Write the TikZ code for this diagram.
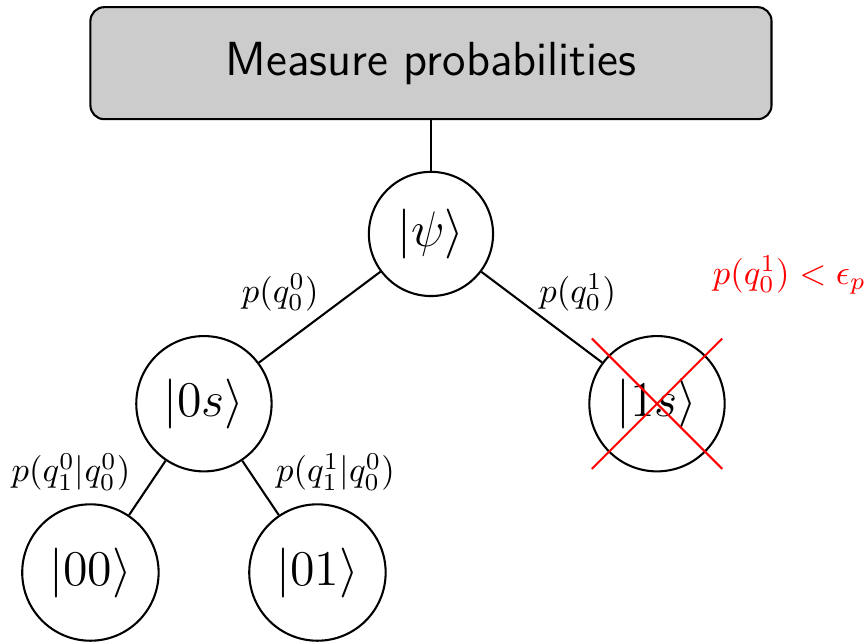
\documentclass[tikz,border=0pt]{standalone}
\usepackage{tikz}
\usetikzlibrary{positioning}

\begin{document}
\begin{tikzpicture}
    % Stijlen
    \tikzstyle{measure} = [rectangle, rounded corners, minimum width=6.9cm, minimum height=1.135cm, text centered, draw=black, semithick, fill=gray!40, font=\sffamily\fontsize{13.8}{16}\selectfont]
    \tikzstyle{state} = [circle, draw=black, semithick, inner sep=4.2pt, font=\Large]
    \tikzstyle{edge} = [semithick]
    \tikzstyle{cut} = [red, semithick]
    \tikzstyle{lbl} = [midway, inner sep=0pt]

    \useasboundingbox (-4.366,-4.143) rectangle (4.397,2.370);

    % Knopen
    \node (meas) [measure] at (0,1.73) {Measure probabilities};
    \node (psi) [state] at (0,0) {$|\psi\rangle$};
    \node (s0) [state] at (-2.30,-1.72) {$|0s\rangle$};
    \node (s1) [state] at (2.29,-1.72) {$|1s\rangle$};
    \node (n00) [state] at (-3.45,-3.43) {$|00\rangle$};
    \node (n01) [state] at (-1.15,-3.43) {$|01\rangle$};

    % Lijnen
    \draw [edge] (meas) -- (psi);
    \draw [edge] (psi) -- (s0) node[lbl, anchor=south east, yshift=1.5pt] {$p(q_0^0)$};
    \draw [edge] (psi) -- (s1) node[lbl, anchor=south west, xshift=-1pt, yshift=1.5pt] {$p(q_0^1)$};
    \draw [edge] (s0) -- (n00) node[lbl, anchor=south east, xshift=-4.6pt, yshift=-1pt] {$p(q_1^0|q_0^0)$};
    \draw [edge] (s0) -- (n01) node[lbl, anchor=south west, xshift=4.2pt, yshift=-1pt] {$p(q_1^1|q_0^0)$};

    % Afgekapte tak
    \draw [cut] ([shift={(-0.66,0.66)}]s1.center) -- ([shift={(0.66,-0.66)}]s1.center);
    \draw [cut] ([shift={(-0.66,-0.66)}]s1.center) -- ([shift={(0.66,0.66)}]s1.center);
    \node (thr) [anchor=west, text=red, inner sep=0pt] at (2.85,-0.415) {$p(q_0^1) < \epsilon_p$};

\end{tikzpicture}
\end{document}
